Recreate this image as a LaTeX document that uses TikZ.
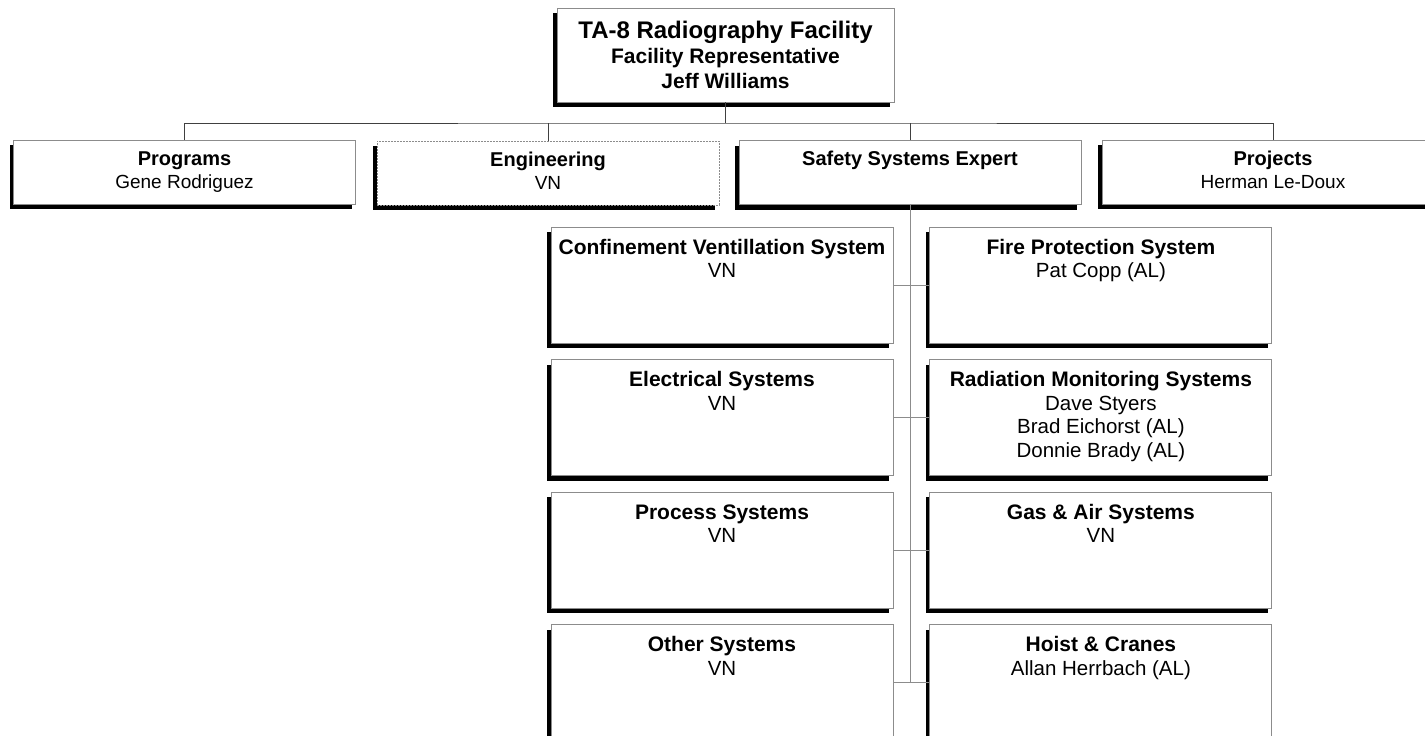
\documentclass[tikz,border=0pt]{standalone}
\usepackage{fontspec}
\setmainfont{Liberation Sans}
\usetikzlibrary{positioning,shadows}
\tikzset{
  box/.style={draw=black!45, line width=0.9pt, fill=white, inner sep=0pt,
    minimum width=342pt, minimum height=64pt, align=center,
    drop shadow={shadow xshift=-4pt, shadow yshift=-5pt, fill=black, opacity=1}},
  topbox/.style={box, minimum width=337pt, minimum height=94pt,
    font=\bfseries\fontsize{21}{25}\selectfont},
  unitbox/.style={box, font=\fontsize{19}{23}\selectfont},
  sysbox/.style={box, minimum height=116pt, inner ysep=4pt},
  link/.style={draw=black!75, line width=0.9pt},
  sublink/.style={draw=black!45, line width=0.9pt}
}
\newcommand{\unitlabel}[2]{{\bfseries\fontsize{20}{23}\selectfont\strut #1}\\\strut #2}
\newcommand{\systext}[2]{\parbox[t][108pt][t]{336pt}{\centering\rule{0pt}{23pt}%
  {\bfseries\fontsize{21}{23.5}\selectfont #1}\\\fontsize{20.5}{23.5}\selectfont #2}}
\begin{document}
\begin{tikzpicture}[x=1pt,y=-1pt]
            \path[use as bounding box] (0,0) rectangle (1425,736);
            \clip (0,0) rectangle (1425,736);
            %capo
            \node[topbox] (fac) at (725.5,55) {{\fontsize{24}{25}\selectfont TA-8 Radiography Facility}\\Facility Representative\\Jeff Williams};
            %primo livello
            \node[unitbox] (prog) at (184.5,172) {\unitlabel{Programs}{Gene Rodriguez}};
            \node[unitbox, dash pattern=on 2pt off 1pt] (eng) at (548,173) {\unitlabel{Engineering}{VN}};
            \node[unitbox] (safe) at (910,172.5) {\unitlabel{Safety Systems Expert}{}};
            \node[unitbox] (proj) at (1273,172) {\unitlabel{Projects}{Herman Le-Doux}};
            %sistemi
            \node[sysbox] (cvs) at (722,285) {\systext{Confinement Ventillation System}{VN}};
            \node[sysbox, below=15.7pt of cvs] (els) {\systext{Electrical Systems}{VN}};
            \node[sysbox, below=15.7pt of els] (prs) {\systext{Process Systems}{VN}};
            \node[sysbox, below=15.7pt of prs] (oth) {\systext{Other Systems}{VN}};
            \node[sysbox, right=36pt of cvs] (fps) {\systext{Fire Protection System}{Pat Copp (AL)}};
            \node[sysbox, right=36pt of els] (rms) {\systext{Radiation Monitoring Systems}{Dave Styers\\Brad Eichorst (AL)\\Donnie Brady (AL)}};
            \node[sysbox, right=36pt of prs] (gas) {\systext{Gas \& Air Systems}{VN}};
            \node[sysbox, right=36pt of oth] (hoi) {\systext{Hoist \& Cranes}{Allan Herrbach (AL)}};
            %collegamenti
            \coordinate (bus) at (726,123);
            \draw[link] (fac.south) -- (fac.south |- bus);
            \draw[link] (prog.north) |- (bus) -| (proj.north);
            \draw[link] (eng.north) -- (eng.north |- bus);
            \draw[link] (safe.north) -- (safe.north |- bus);
            \draw[sublink] (safe.south) -- (safe.south |- hoi.west);
            \draw[sublink] (cvs.east) -- (fps.west);
            \draw[sublink] (els.east) -- (rms.west);
            \draw[sublink] (prs.east) -- (gas.west);
            \draw[sublink] (oth.east) -- (hoi.west);
         \end{tikzpicture}
\end{document}
